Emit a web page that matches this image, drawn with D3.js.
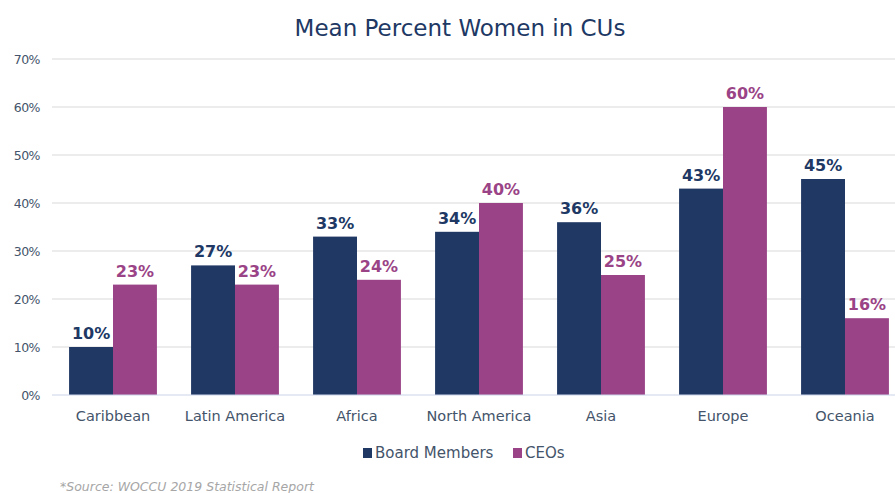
<!DOCTYPE html>
<html lang="en">
<head>
<meta charset="UTF-8">
<title>Mean Percent Women in CUs</title>
<style>
  body { margin: 0; background: #fff; }
  svg text { font-family: "DejaVu Sans", Verdana, sans-serif; }
</style>
</head>
<body>
<script src="https://cdnjs.cloudflare.com/ajax/libs/d3/7.8.5/d3.min.js"></script>
<script>
var regions = ['Caribbean', 'Latin America', 'Africa', 'North America', 'Asia', 'Europe', 'Oceania'];
var boardMembers = [10, 27, 33, 34, 36, 43, 45];
var ceos = [23, 23, 24, 40, 25, 60, 16];
var seriesNames = ['Board Members', 'CEOs'];
var yTicks = [0, 10, 20, 30, 40, 50, 60, 70];

var W = 895, H = 493;
var colors = { 'Board Members': '#203864', 'CEOs': '#9a4386' };
var series = [boardMembers, ceos];

var svg = d3.select('body').append('svg')
    .attr('width', W).attr('height', H);

// 0% at 395, 70% at 59
var y = d3.scaleLinear().domain([0, 70]).range([395, 59]);
var x0 = d3.scaleBand().domain(regions).range([52, 906]).paddingInner(0.28).paddingOuter(0.14);
var x1 = d3.scaleBand().domain(seriesNames).range([0, x0.bandwidth()]);

// gridlines
svg.append('g')
    .selectAll('line')
    .data(yTicks.filter(function (d) { return d > 0; }))
    .enter().append('line')
    .attr('x1', 52).attr('x2', W)
    .attr('y1', function (d) { return y(d); })
    .attr('y2', function (d) { return y(d); })
    .attr('stroke', '#d9d9d9').attr('stroke-width', 1.2);

// y axis labels
var yAxis = d3.axisLeft(y).tickValues(yTicks).tickSize(0)
    .tickFormat(function (d) { return d + '%'; });
var ga = svg.append('g').attr('transform', 'translate(40,0)').call(yAxis);
ga.select('.domain').remove();
ga.selectAll('text')
    .attr('x', 0).attr('text-anchor', 'end')
    .style('font-size', '12.5px').style('letter-spacing', '-0.5px')
    .attr('fill', '#44546a');

// bars
var groups = svg.append('g').selectAll('g')
    .data(regions)
    .enter().append('g')
    .attr('transform', function (d) { return 'translate(' + x0(d) + ',0)'; });

groups.selectAll('rect')
    .data(function (d, i) {
        return seriesNames.map(function (s, k) { return { s: s, v: series[k][i] }; });
    })
    .enter().append('rect')
    .attr('x', function (d) { return x1(d.s); })
    .attr('width', x1.bandwidth())
    .attr('y', function (d) { return y(d.v); })
    .attr('height', function (d) { return y(0) - y(d.v); })
    .attr('fill', function (d) { return colors[d.s]; });

groups.selectAll('text.lbl')
    .data(function (d, i) {
        return seriesNames.map(function (s, k) { return { s: s, v: series[k][i] }; });
    })
    .enter().append('text')
    .attr('class', 'lbl')
    .attr('x', function (d) { return x1(d.s) + x1.bandwidth() / 2; })
    .attr('y', function (d) { return y(d.v) - 8; })
    .attr('text-anchor', 'middle')
    .style('font-size', '16px').style('font-weight', 'bold')
    .attr('fill', function (d) { return colors[d.s]; })
    .text(function (d) { return d.v + '%'; });

// baseline
svg.append('line')
    .attr('x1', 52).attr('x2', W)
    .attr('y1', y(0)).attr('y2', y(0))
    .attr('stroke', '#c9d3e8').attr('stroke-width', 1.2);

// category labels
var xAxis = d3.axisBottom(x0).tickSize(0).tickPadding(16);
var gx = svg.append('g').attr('transform', 'translate(0,' + y(0) + ')').call(xAxis);
gx.select('.domain').remove();
gx.selectAll('text').style('font-size', '14.5px').attr('fill', '#44546a');

// title
svg.append('text')
    .attr('x', 460).attr('y', 36)
    .attr('text-anchor', 'middle')
    .style('font-size', '23px')
    .attr('fill', '#203864')
    .text('Mean Percent Women in CUs');

// legend
var legend = svg.append('g').attr('transform', 'translate(363,458)');
var li = legend.selectAll('g').data(seriesNames).enter().append('g')
    .attr('transform', function (d, i) { return 'translate(' + (i * 150) + ',0)'; });
li.append('rect').attr('x', 0).attr('y', -10).attr('width', 9).attr('height', 10)
    .attr('fill', function (d) { return colors[d]; });
li.append('text').attr('x', 12).attr('y', 0)
    .style('font-size', '15px').attr('fill', '#44546a')
    .text(function (d) { return d; });

// source
svg.append('text')
    .attr('x', 60).attr('y', 491)
    .style('font-size', '12.5px').style('font-style', 'italic')
    .attr('fill', '#a6a6a6')
    .text('*Source: WOCCU 2019 Statistical Report');
</script>
</body>
</html>
